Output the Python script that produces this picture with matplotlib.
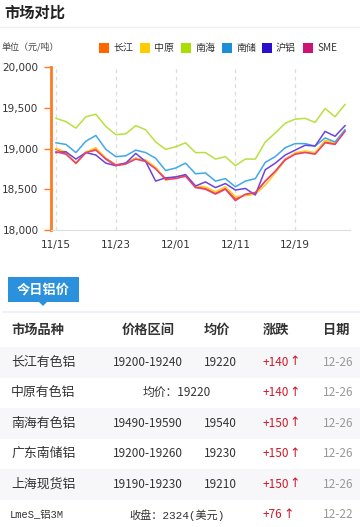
import matplotlib
matplotlib.use('Agg')
import matplotlib.pyplot as plt
from matplotlib.patches import Rectangle, Polygon
from matplotlib.ticker import FuncFormatter

plt.rcParams['font.family'] = ['Noto Sans CJK SC', 'DejaVu Sans']

# ---- chart data ----
dates = ['11/15', '11/18', '11/19', '11/20', '11/21', '11/22', '11/23', '11/25', '11/26', '11/27',
         '11/28', '11/29', '12/01', '12/03', '12/04', '12/05', '12/06', '12/09', '12/11', '12/12',
         '12/13', '12/16', '12/17', '12/18', '12/19', '12/20', '12/23', '12/24', '12/25', '12/26']
shown_dates = ['11/15', '11/23', '12/01', '12/11', '12/19']

changjiang = [18990, 18940, 18820, 18950, 19000, 18880, 18800, 18820, 18880, 18850,
              18760, 18630, 18650, 18670, 18530, 18510, 18450, 18510, 18380, 18430,
              18450, 18600, 18720, 18870, 18940, 18960, 18940, 19080, 19060, 19220]
zhongyuan = [19000, 18960, 18810, 18960, 19010, 18870, 18790, 18810, 18880, 18860,
             18770, 18610, 18640, 18660, 18540, 18530, 18470, 18530, 18410, 18420,
             18440, 18550, 18700, 18860, 18950, 18970, 18950, 19100, 19070, 19220]
nanhai = [19370, 19330, 19250, 19390, 19420, 19270, 19170, 19180, 19280, 19230,
          19080, 18990, 19020, 19070, 18950, 18950, 18870, 18900, 18790, 18870,
          18870, 19080, 19190, 19310, 19360, 19370, 19320, 19490, 19390, 19540]
nanchu = [19070, 19050, 18950, 19090, 19160, 18990, 18900, 18910, 18980, 18950,
          18880, 18730, 18760, 18820, 18690, 18700, 18600, 18630, 18530, 18600,
          18630, 18830, 18900, 19010, 19060, 19060, 19030, 19130, 19080, 19230]
hulv = [18950, 18960, 18870, 18950, 18920, 18820, 18790, 18820, 18940, 18840,
        18600, 18640, 18650, 18680, 18540, 18590, 18520, 18570, 18490, 18510,
        18430, 18740, 18820, 18920, 18980, 19040, 19030, 19210, 19150, 19280]
sme = [18960, 18930, 18820, 18950, 18980, 18870, 18790, 18810, 18870, 18840,
       18750, 18620, 18630, 18660, 18520, 18500, 18440, 18500, 18360, 18440,
       18460, 18600, 18720, 18860, 18930, 18950, 18930, 19070, 19050, 19210]

series_names = ['长江', '中原', '南海', '南储', '沪铝', 'SME']
series = [changjiang, zhongyuan, nanhai, nanchu, hulv, sme]
legend_colors = ['#ff6600', '#ffcc00', '#aadd00', '#1a8ed8', '#2a10cc', '#cc1177']
line_colors = ['#ff5a1a', '#ffcc22', '#b8e040', '#40a8e8', '#6a44e0', '#e6407a']
yticks = [18000, 18500, 19000, 19500, 20000]

# ---- table data ----
headers = ['市场品种', '价格区间', '均价', '涨跌', '日期']
markets = ['长江有色铝', '中原有色铝', '南海有色铝', '广东南储铝', '上海现货铝', 'LmeS_铝3M']
ranges = ['19200-19240', None, '19490-19590', '19200-19260', '19190-19230', None]
averages = ['19220', None, '19540', '19230', '19210', None]
merged = [None, '均价：19220', None, None, None, '收盘：2324(美元)']
changes = ['+140', '+140', '+150', '+150', '+150', '+76']
days = ['12-26', '12-26', '12-26', '12-26', '12-26', '12-22']

W, H = 360, 527
fig = plt.figure(figsize=(W / 100, H / 100), dpi=100)


def fx(x):
    return x / W


def fy(y):
    return 1 - y / H


def txt(x, y, s, **kw):
    kw.setdefault('va', 'center')
    kw.setdefault('ha', 'left')
    fig.text(fx(x), fy(y), s, **kw)


def rect(x, y, w, h, color):
    fig.patches.append(Rectangle((fx(x), fy(y + h)), w / W, h / H,
                                 transform=fig.transFigure, color=color, lw=0, zorder=0))


# header
txt(4, 13, '市场对比', fontsize=11, fontweight='bold', color='#222222')
fig.add_artist(plt.Line2D([0, 1], [fy(27), fy(27)], color='#eeeeee', lw=1))
txt(2, 47, '单位（元/吨）', fontsize=6.5, color='#444444')

leg_x = [99, 140, 181, 222, 262, 303]
for x, name, c in zip(leg_x, series_names, legend_colors):
    rect(x, 43, 10, 10, c)
    txt(x + 14, 48, name, fontsize=7.2, color='#333333')

# chart
ax = fig.add_axes([fx(51), fy(230), 299 / W, 163 / H])
xs = list(range(len(dates)))
for vals, c in zip(series, line_colors):
    ax.plot(xs, vals, color=c, lw=1.1)
ax.set_xlim(-0.5, len(dates) - 0.5)
ax.set_ylim(18000, 20000)
ax.set_yticks(yticks)
ax.yaxis.set_major_formatter(FuncFormatter(lambda v, p: f'{int(v):,}'))
tick_pos = [dates.index(d) for d in shown_dates]
ax.set_xticks(tick_pos)
ax.set_xticklabels(shown_dates)
for p in tick_pos:
    ax.axvline(p, color='#dddddd', lw=0.9, ls=(0, (3, 3)), zorder=0)
for s in ['top', 'right']:
    ax.spines[s].set_visible(False)
ax.spines['left'].set_color('#ff7a22')
ax.spines['left'].set_linewidth(2)
ax.spines['bottom'].set_color('#dddddd')
ax.tick_params(axis='y', colors='#ff7a22', length=5, width=1, labelsize=7.5,
               labelcolor='#333333', pad=4)
ax.tick_params(axis='x', length=0, labelsize=7.5, labelcolor='#333333', pad=7)
for lab in ax.get_xticklabels() + ax.get_yticklabels():
    lab.set_family(['DejaVu Sans'])

# tab
rect(8, 277, 71, 25, '#2b91dc')
fig.patches.append(Polygon([(fx(39), fy(302)), (fx(47), fy(302)), (fx(43), fy(306))],
                           closed=True, transform=fig.transFigure, color='#2b91dc', lw=0))
txt(43.5, 289.5, '今日铝价', fontsize=9.5, fontweight='bold', color='white', ha='center')
rect(2, 311, 358, 2, '#eef1f6')

# table header
head_x = [(11, 'left'), (148, 'center'), (217, 'center'), (263, 'left'), (323, 'left')]
for (x, ha), h in zip(head_x, headers):
    txt(x, 330, h, fontsize=9.5, fontweight='bold', color='#333333', ha=ha)
rect(0, 347, W, 1, '#f0f0f0')

row_h = 30.5
mono = ['Liberation Mono', 'Noto Sans CJK SC']
for i in range(len(markets)):
    top = 347 + i * row_h
    yc = top + row_h / 2
    if i % 2 == 0:
        rect(0, top, W, row_h, '#f7f7f9')
    lme = markets[i].startswith('Lme')
    if lme:
        txt(10, yc, markets[i], fontsize=7.5, color='#333333', family=mono)
    else:
        txt(11, yc, markets[i], fontsize=9.3, color='#333333')
    if merged[i] is not None:
        txt(177, yc, merged[i], fontsize=8.5 if not lme else 8, color='#333333',
            ha='center', family=mono if lme else None)
    else:
        txt(148, yc, ranges[i], fontsize=8.5, color='#333333', ha='center')
        txt(220, yc, averages[i], fontsize=8.5, color='#333333', ha='center')
    txt(263, yc, changes[i], fontsize=8.5, color='#cc1b2b')
    txt(263 + len(changes[i]) * 6.3 + 1.5, yc - 0.5, '↑', fontsize=9, color='#cc1b2b',
        family=['DejaVu Sans'])
    txt(323, yc, days[i], fontsize=8.5, color='#999999')

fig.savefig('out.png', dpi=100)
